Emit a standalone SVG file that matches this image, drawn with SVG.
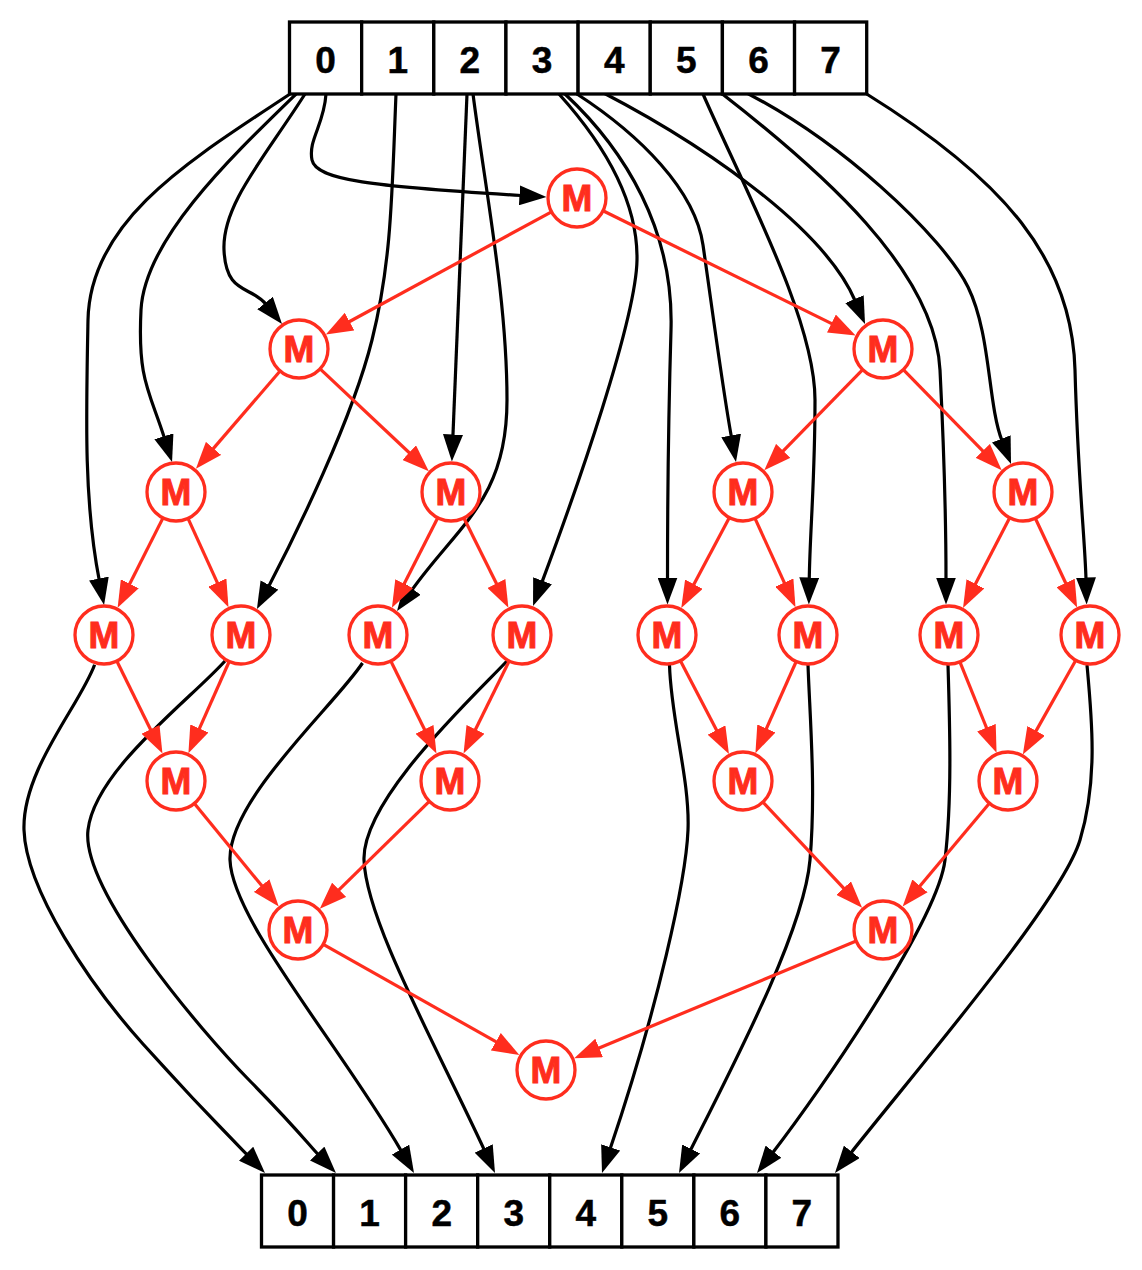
<svg xmlns="http://www.w3.org/2000/svg" width="1142" height="1270" viewBox="0 0 1142 1270">
<defs>
<style>
.cell{fill:#fff;stroke:#000;stroke-width:3.3}
.dig{font-family:"Liberation Sans",Arial,sans-serif;font-weight:bold;font-size:37px;fill:#000;stroke:#000;stroke-width:0.5;text-anchor:middle}
.nd circle{fill:#fff;stroke:#ff2d1e;stroke-width:3.3}
.nd text{font-family:"Liberation Sans",Arial,sans-serif;font-weight:bold;font-size:37px;fill:#ff2d1e;stroke:#ff2d1e;stroke-width:1;text-anchor:middle}
.bk{fill:none;stroke:#000;stroke-width:3.2;marker-end:url(#ab)}
.rd{fill:none;stroke:#ff2d1e;stroke-width:3.2;marker-end:url(#ar)}
</style>
<marker id="ab" markerUnits="userSpaceOnUse" viewBox="0 0 27 20" markerWidth="27" markerHeight="20" refX="2" refY="10" orient="auto"><path d="M0,0 L27,10 L0,20 z" fill="#000"/></marker>
<marker id="ar" markerUnits="userSpaceOnUse" viewBox="0 0 27 20" markerWidth="27" markerHeight="20" refX="2" refY="10" orient="auto"><path d="M0,0 L27,10 L0,20 z" fill="#ff2d1e"/></marker>
</defs>
<rect width="1142" height="1270" fill="#fff"/>
<g id="connectors">
<path class="bk" d="M290,94 C190,160 90,220 88,320 S84,502 99.3,580.5"/>
<path class="bk" d="M296,94 C229,159 144.5,240 141,310 S149.4,390.6 164.5,438.2"/>
<path class="bk" d="M305,94 C263.6,158.8 222,205 224,250 S250.6,285.2 266.3,304.6"/>
<path class="bk" d="M326,94 C324,125 308,140 312,160 S371.8,186.5 521.5,195.5"/>
<path class="bk" d="M396,94 C392,190 392,260 372,340 S296.2,533.6 268.5,586.8"/>
<path class="bk" d="M467,94 L452.9,436.5"/>
<path class="bk" d="M473,94 C486,194 507,300 507,400 S457.8,525.4 411.5,590.6"/>
<path class="bk" d="M559,94 C604,144 638,200 637,260 S576.8,488.9 541.8,582.6"/>
<path class="bk" d="M565,94 C625,150 674,230 671,330 S667.5,520 667.5,579.5"/>
<path class="bk" d="M577,94 C640,135 695,190 703,245 S722.5,388.2 731.5,437.4"/>
<path class="bk" d="M578,80 C700,140 824,227.4 855.25,301"/>
<path class="bk" d="M703,94 C745,190 815,320 815,400 S810,530 809.25,579.5"/>
<path class="bk" d="M722.4,94 C820,170 935,270 940,370 S946,530 946,579.5"/>
<path class="bk" d="M722.4,81 C840,135 945,240 968,287 S987.6,403.5 1002,440.75"/>
<path class="bk" d="M866.7,94 C1005,180 1072,260 1075,370 S1085,540 1086,579.5"/>
<path class="bk" d="M94.6,664.7 C80,705 22,770 24,830 S90,985 143,1044 S226.5,1133.7 247.5,1155.15"/>
<path class="bk" d="M225,661 C190,700 95,770 88,830 S200,1030 250,1081 S308,1144 318.6,1155"/>
<path class="bk" d="M362.5,663 C335,705 228,800 230,860 S341.5,1047.4 401.5,1151.35"/>
<path class="bk" d="M507,661 C470,700 362,800 364,860 S434.1,1041.5 484.5,1150.3"/>
<path class="bk" d="M669.5,665 C671,720 690,780 688,830 S658,1007.25 610,1149.3"/>
<path class="bk" d="M808,665 C810,720 816,790 810,860 S735.25,1061.4 690.25,1150.7"/>
<path class="bk" d="M948,665 C950,730 952,800 945,860 S821.3,1090 772.3,1153.25"/>
<path class="bk" d="M1087,665 C1092,720 1098,780 1080,840 S925,1059.6 850.5,1153.4"/>
<path class="rd" d="M551.5,211.8 L347.8,322.5"/>
<path class="rd" d="M603,210.8 L833.2,324.4"/>
<path class="rd" d="M280.1,371 L212.2,449.9"/>
<path class="rd" d="M320.1,368.9 L410.6,454"/>
<path class="rd" d="M862.7,369.7 L781.8,452.3"/>
<path class="rd" d="M903.3,369.7 L984.2,452.3"/>
<path class="rd" d="M163,517.9 L128.9,585.5"/>
<path class="rd" d="M188,518.4 L218.1,584.4"/>
<path class="rd" d="M437.8,517.8 L403.3,585.5"/>
<path class="rd" d="M463.9,518 L497.3,585.3"/>
<path class="rd" d="M729.4,517.6 L693,586"/>
<path class="rd" d="M755,518.4 L785.1,584.4"/>
<path class="rd" d="M1009.7,517.8 L974.5,585.7"/>
<path class="rd" d="M1035.3,518.3 L1066.5,584.8"/>
<path class="rd" d="M116.8,661 L151.4,731.2"/>
<path class="rd" d="M229.2,661.5 L198.6,730.3"/>
<path class="rd" d="M390.8,661 L425.4,731.2"/>
<path class="rd" d="M509.2,661 L474.6,731.2"/>
<path class="rd" d="M680.4,660.7 L717.4,731.8"/>
<path class="rd" d="M796.2,661.5 L765.6,730.3"/>
<path class="rd" d="M959.9,661.9 L987.2,729.5"/>
<path class="rd" d="M1075.8,660.3 L1035.1,732.6"/>
<path class="rd" d="M194.4,803.4 L262.9,887.1"/>
<path class="rd" d="M429.3,801.3 L337.65,891.2"/>
<path class="rd" d="M762.9,802.1 L845,889.6"/>
<path class="rd" d="M989.4,803.2 L918.7,887.45"/>
<path class="rd" d="M323.3,944.3 L497.6,1042.7"/>
<path class="rd" d="M856.2,941.1 L597.3,1048.7"/>
</g>
<g id="input-array">
<rect class="cell" x="289.5" y="22" width="72.15" height="72"/>
<rect class="cell" x="361.65" y="22" width="72.15" height="72"/>
<rect class="cell" x="433.8" y="22" width="72.15" height="72"/>
<rect class="cell" x="505.95" y="22" width="72.15" height="72"/>
<rect class="cell" x="578.1" y="22" width="72.15" height="72"/>
<rect class="cell" x="650.25" y="22" width="72.15" height="72"/>
<rect class="cell" x="722.4" y="22" width="72.15" height="72"/>
<rect class="cell" x="794.55" y="22" width="72.15" height="72"/>
<text class="dig" x="325.6" y="72.5">0</text>
<text class="dig" x="397.7" y="72.5">1</text>
<text class="dig" x="469.9" y="72.5">2</text>
<text class="dig" x="542" y="72.5">3</text>
<text class="dig" x="614.2" y="72.5">4</text>
<text class="dig" x="686.3" y="72.5">5</text>
<text class="dig" x="758.5" y="72.5">6</text>
<text class="dig" x="830.6" y="72.5">7</text>
</g>
<g id="output-array">
<rect class="cell" x="261.5" y="1175" width="72.06" height="72"/>
<rect class="cell" x="333.56" y="1175" width="72.06" height="72"/>
<rect class="cell" x="405.62" y="1175" width="72.06" height="72"/>
<rect class="cell" x="477.68" y="1175" width="72.06" height="72"/>
<rect class="cell" x="549.74" y="1175" width="72.06" height="72"/>
<rect class="cell" x="621.8" y="1175" width="72.06" height="72"/>
<rect class="cell" x="693.86" y="1175" width="72.06" height="72"/>
<rect class="cell" x="765.92" y="1175" width="72.06" height="72"/>
<text class="dig" x="297.5" y="1225.5">0</text>
<text class="dig" x="369.6" y="1225.5">1</text>
<text class="dig" x="441.7" y="1225.5">2</text>
<text class="dig" x="513.7" y="1225.5">3</text>
<text class="dig" x="585.8" y="1225.5">4</text>
<text class="dig" x="657.8" y="1225.5">5</text>
<text class="dig" x="729.9" y="1225.5">6</text>
<text class="dig" x="801.9" y="1225.5">7</text>
</g>
<g id="m0" class="nd"><circle cx="577" cy="198" r="29"/><text x="577" y="211">M</text></g>
<g id="m1a" class="nd"><circle cx="299" cy="349" r="29"/><text x="299" y="362">M</text></g>
<g id="m1b" class="nd"><circle cx="883" cy="349" r="29"/><text x="883" y="362">M</text></g>
<g id="m2a" class="nd"><circle cx="176" cy="492" r="29"/><text x="176" y="505">M</text></g>
<g id="m2b" class="nd"><circle cx="451" cy="492" r="29"/><text x="451" y="505">M</text></g>
<g id="m2c" class="nd"><circle cx="743" cy="492" r="29"/><text x="743" y="505">M</text></g>
<g id="m2d" class="nd"><circle cx="1023" cy="492" r="29"/><text x="1023" y="505">M</text></g>
<g id="leaf0" class="nd"><circle cx="104" cy="635" r="29"/><text x="104" y="648">M</text></g>
<g id="leaf1" class="nd"><circle cx="241" cy="635" r="29"/><text x="241" y="648">M</text></g>
<g id="leaf2" class="nd"><circle cx="378" cy="635" r="29"/><text x="378" y="648">M</text></g>
<g id="leaf3" class="nd"><circle cx="522" cy="635" r="29"/><text x="522" y="648">M</text></g>
<g id="leaf4" class="nd"><circle cx="667" cy="635" r="29"/><text x="667" y="648">M</text></g>
<g id="leaf5" class="nd"><circle cx="808" cy="635" r="29"/><text x="808" y="648">M</text></g>
<g id="leaf6" class="nd"><circle cx="949" cy="635" r="29"/><text x="949" y="648">M</text></g>
<g id="leaf7" class="nd"><circle cx="1090" cy="635" r="29"/><text x="1090" y="648">M</text></g>
<g id="m4a" class="nd"><circle cx="176" cy="781" r="29"/><text x="176" y="794">M</text></g>
<g id="m4b" class="nd"><circle cx="450" cy="781" r="29"/><text x="450" y="794">M</text></g>
<g id="m4c" class="nd"><circle cx="743" cy="781" r="29"/><text x="743" y="794">M</text></g>
<g id="m4d" class="nd"><circle cx="1008" cy="781" r="29"/><text x="1008" y="794">M</text></g>
<g id="m5a" class="nd"><circle cx="298" cy="930" r="29"/><text x="298" y="943">M</text></g>
<g id="m5b" class="nd"><circle cx="883" cy="930" r="29"/><text x="883" y="943">M</text></g>
<g id="m6" class="nd"><circle cx="546" cy="1070" r="29"/><text x="546" y="1083">M</text></g>
</svg>
